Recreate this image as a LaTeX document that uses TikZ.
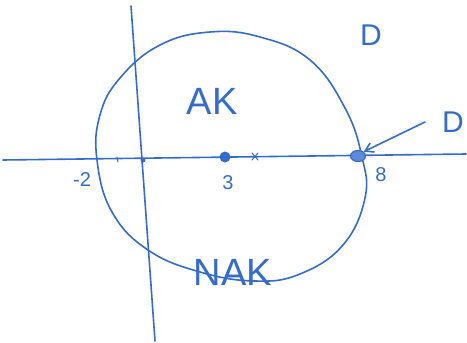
\documentclass[tikz,border=0pt]{standalone}
\usepackage{fontspec}
\setmainfont{Liberation Sans}
\usetikzlibrary{arrows.meta,shapes.geometric}
\definecolor{pen}{RGB}{52,108,205}
\tikzset{
  ink/.style={draw=pen, line width=1.6pt, line cap=round, line join=round},
  lbl/.style={text=pen, inner sep=0pt},
  big/.style={lbl, font=\fontsize{38}{38}\selectfont},
  mid/.style={lbl, font=\fontsize{30}{30}\selectfont},
  sml/.style={lbl, font=\fontsize{20}{20}\selectfont},
}
\begin{document}
\begin{tikzpicture}[x=1pt,y=-1pt]
\useasboundingbox (0,0) rectangle (467,343);
% axes
\coordinate (xl) at (3,160);
\coordinate (xr) at (466,154);
\coordinate (yt) at (131,6);
\coordinate (yb) at (155,341);
\draw[ink] (xl) -- (xr);
\draw[ink] (yt) -- (yb);
% region boundary
\draw[ink] plot[smooth cycle, tension=0.7] coordinates {
  (97,160) (100,115) (120,78) (160,45) (210,32) (260,37) (310,60)
  (345,108) (362,157) (365,198) (343,245) (300,274) (255,281)
  (200,272) (148,250) (112,212)};
% points
\node[circle, fill=pen, inner sep=0pt, minimum size=5pt] (p0) at (143,160) {};
\node[circle, fill=pen, inner sep=0pt, minimum size=11pt] (p3) at (225,157) {};
\node[ellipse, draw=pen, fill=pen!80, line width=1.2pt, inner sep=0pt, minimum width=15pt, minimum height=11pt] (p8) at (358,156) {};
% ticks
\draw[ink, line width=1pt] (117,157) -- (118,162);
\draw[ink, line width=1pt] (252,153) -- (258,160) (258,153) -- (252,160);
% labels
\node[sml] (m2) at (82,180) {-2};
\node[sml] (l3) at (228,183) {3};
\node[sml] (l8) at (381,175) {8};
\node[big] (ak) at (212,101) {AK};
\node[big] (nak) at (233,272) {NAK};
\node[mid] (d1) at (371,35) {D};
\node[mid] (d2) at (453,122) {D};
% arrow
\coordinate (as) at (425,122);
\draw[ink, -{Straight Barb[length=8pt,width=10pt]}] (as) -- (p8.north east);
\end{tikzpicture}
\end{document}
